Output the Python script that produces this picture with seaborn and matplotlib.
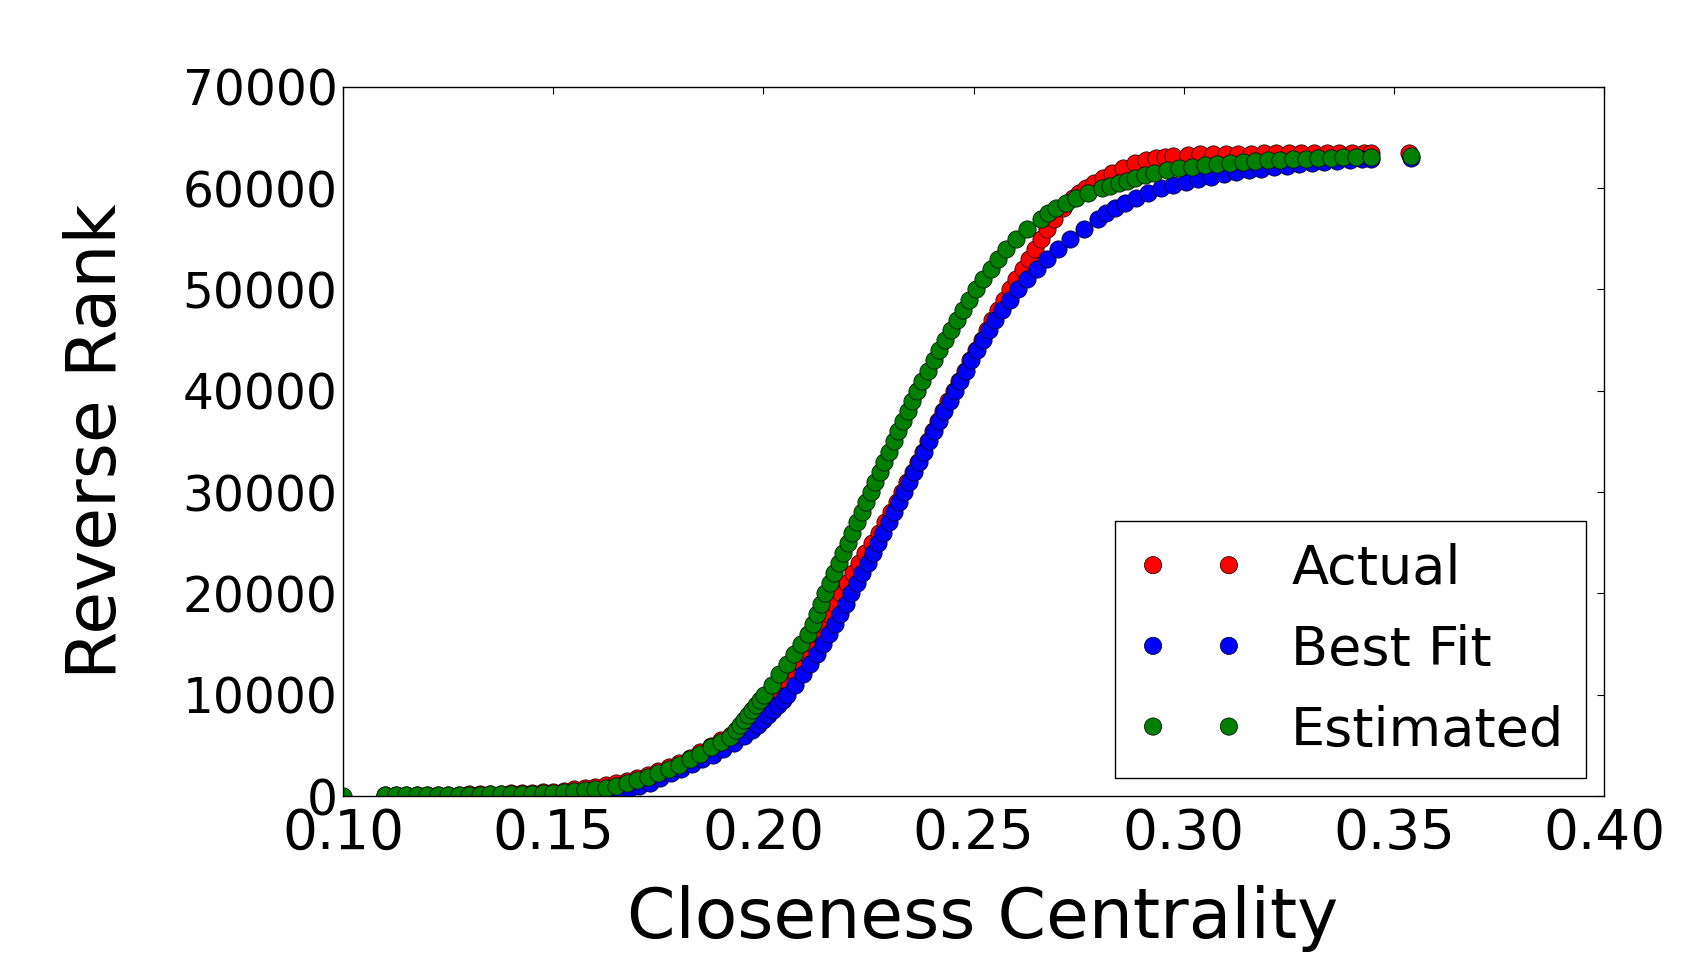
import seaborn as sns
import matplotlib.pyplot as plt
import pandas as pd

# (closeness, reverse rank)
actual_pts = [
    (0.110, 70), (0.1125, 80), (0.115, 90), (0.1175, 100), (0.120, 110), (0.1225, 120),
    (0.125, 135), (0.1275, 150), (0.130, 165), (0.1325, 185), (0.135, 205), (0.1375, 230),
    (0.140, 260), (0.1425, 300), (0.145, 340), (0.1475, 390), (0.150, 450), (0.1525, 540),
    (0.155, 650), (0.1575, 770), (0.160, 900), (0.1625, 1060), (0.165, 1250), (0.1675, 1480),
    (0.170, 1750), (0.1725, 2080), (0.175, 2450), (0.1775, 2850), (0.180, 3300), (0.1825, 3800),
    (0.185, 4350), (0.1875, 4900), (0.190, 5500), (0.1922, 6000), (0.1938, 6500), (0.1956, 7000),
    (0.1973, 7500), (0.1990, 8000), (0.2006, 8500), (0.2020, 9000), (0.2032, 9500), (0.2043, 10000),
    (0.2061, 11000), (0.2077, 12000), (0.2091, 13000), (0.2104, 14000), (0.2117, 15000),
    (0.2130, 16000), (0.2143, 17000), (0.2157, 18000), (0.2171, 19000), (0.2185, 20000),
    (0.2199, 21000), (0.2213, 22000), (0.2227, 23000), (0.2242, 24000), (0.2258, 25000),
    (0.2275, 26000), (0.2290, 27000), (0.2304, 28000), (0.2317, 29000), (0.2330, 30000),
    (0.2342, 31000), (0.2355, 32000), (0.2367, 33000), (0.2379, 34000), (0.2391, 35000),
    (0.2403, 36000), (0.2415, 37000), (0.2427, 38000), (0.2440, 39000), (0.2453, 40000),
    (0.2466, 41000), (0.2479, 42000), (0.2492, 43000), (0.2506, 44000), (0.2519, 45000),
    (0.2532, 46000), (0.2545, 47000), (0.2558, 48000), (0.2572, 49000), (0.2587, 50000),
    (0.2602, 51000), (0.2617, 52000), (0.2632, 53000), (0.2647, 54000), (0.2661, 55000),
    (0.2676, 56000), (0.2692, 57000), (0.2712, 58000), (0.2736, 59000), (0.2750, 59500),
    (0.2768, 60000), (0.2787, 60500), (0.2808, 61000), (0.2830, 61500), (0.2855, 62000),
    (0.2885, 62500), (0.2910, 62800), (0.2935, 63000), (0.2955, 63100), (0.2975, 63200),
    (0.3010, 63300), (0.304, 63340), (0.307, 63370), (0.310, 63390), (0.313, 63400),
    (0.316, 63410), (0.319, 63420), (0.322, 63430), (0.325, 63440), (0.328, 63440),
    (0.331, 63450), (0.334, 63450), (0.337, 63460), (0.340, 63460), (0.343, 63470),
    (0.3445, 63470), (0.3535, 63470),
]

bestfit_pts = [
    (0.155, 80), (0.158, 150), (0.1605, 250), (0.163, 370), (0.1655, 500), (0.168, 680),
    (0.1705, 950), (0.173, 1300), (0.1755, 1750), (0.178, 2250), (0.1805, 2700), (0.183, 3180),
    (0.1855, 3640), (0.188, 4100), (0.1905, 4650), (0.193, 5250), (0.1955, 5900),
    (0.1974, 6500), (0.1987, 7000), (0.1999, 7500), (0.2011, 8000), (0.2023, 8500),
    (0.2035, 9000), (0.2047, 9500), (0.2057, 10000), (0.2076, 11000), (0.2094, 12000),
    (0.2111, 13000), (0.2127, 14000), (0.2142, 15000), (0.2156, 16000), (0.2170, 17000),
    (0.2183, 18000), (0.2196, 19000), (0.2209, 20000), (0.2222, 21000), (0.2235, 22000),
    (0.2248, 23000), (0.2260, 24000), (0.2273, 25000), (0.2285, 26000), (0.2298, 27000),
    (0.2310, 28000), (0.2322, 29000), (0.2334, 30000), (0.2346, 31000), (0.2358, 32000),
    (0.2370, 33000), (0.2382, 34000), (0.2394, 35000), (0.2406, 36000), (0.2418, 37000),
    (0.2430, 38000), (0.2443, 39000), (0.2456, 40000), (0.2469, 41000), (0.2482, 42000),
    (0.2495, 43000), (0.2509, 44000), (0.2523, 45000), (0.2537, 46000), (0.2552, 47000),
    (0.2568, 48000), (0.2586, 49000), (0.2606, 50000), (0.2627, 51000), (0.2650, 52000),
    (0.2675, 53000), (0.2701, 54000), (0.2730, 55000), (0.2762, 56000), (0.2797, 57000),
    (0.2815, 57500), (0.2837, 58000), (0.2860, 58500), (0.2887, 59000), (0.2915, 59500),
    (0.2945, 60000), (0.2975, 60330), (0.3005, 60620), (0.3035, 60880), (0.3065, 61120),
    (0.3095, 61350), (0.3125, 61560), (0.3155, 61760), (0.3185, 61930), (0.3215, 62080),
    (0.3245, 62220), (0.3275, 62350), (0.3305, 62460), (0.3335, 62570), (0.3365, 62670),
    (0.3395, 62770), (0.3425, 62850), (0.3445, 62900), (0.354, 63000),
]

estimated_pts = [
    (0.100, 0),
    (0.110, 60), (0.1125, 70), (0.115, 80), (0.1175, 90), (0.120, 100), (0.1225, 110),
    (0.125, 120), (0.1275, 130), (0.130, 140), (0.1325, 150), (0.135, 160), (0.1375, 175),
    (0.140, 190), (0.1425, 210), (0.145, 240), (0.1475, 280), (0.150, 330), (0.1525, 390),
    (0.155, 460), (0.1575, 560), (0.160, 680), (0.1625, 820), (0.165, 1000), (0.1675, 1250),
    (0.170, 1550), (0.1725, 1900), (0.175, 2250), (0.1775, 2650), (0.180, 3100), (0.1825, 3650),
    (0.185, 4200), (0.1875, 4800), (0.190, 5300), (0.1921, 5860), (0.1934, 6500), (0.1944, 7000),
    (0.1954, 7500), (0.1963, 8000), (0.1973, 8500), (0.1983, 9000), (0.1992, 9500),
    (0.2002, 10000), (0.2020, 11000), (0.2038, 12000), (0.2056, 13000), (0.2073, 14000),
    (0.2089, 15000), (0.2105, 16000), (0.2117, 17000), (0.2127, 18000), (0.2137, 19000),
    (0.2147, 20000), (0.2158, 21000), (0.2168, 22000), (0.2179, 23000), (0.2190, 24000),
    (0.2201, 25000), (0.2212, 26000), (0.2223, 27000), (0.2234, 28000), (0.2244, 29000),
    (0.2255, 30000), (0.2266, 31000), (0.2277, 32000), (0.2288, 33000), (0.2299, 34000),
    (0.2310, 35000), (0.2321, 36000), (0.2332, 37000), (0.2343, 38000), (0.2354, 39000),
    (0.2365, 40000), (0.2378, 41000), (0.2391, 42000), (0.2405, 43000), (0.2418, 44000),
    (0.2432, 45000), (0.2446, 46000), (0.2461, 47000), (0.2476, 48000), (0.2490, 49000),
    (0.2505, 50000), (0.2523, 51000), (0.2541, 52000), (0.2559, 53000), (0.2578, 54000),
    (0.2600, 55000), (0.2628, 56000), (0.2660, 57000), (0.2678, 57500), (0.2697, 58000),
    (0.2720, 58500), (0.2745, 59000), (0.2773, 59500), (0.2805, 60000), (0.2825, 60250),
    (0.2845, 60500), (0.2865, 60750), (0.2885, 61000), (0.2907, 61250), (0.2930, 61500),
    (0.296, 61750), (0.299, 61950), (0.302, 62100), (0.305, 62240), (0.308, 62370),
    (0.311, 62480), (0.314, 62580), (0.317, 62660), (0.320, 62740), (0.323, 62810),
    (0.326, 62870), (0.329, 62920), (0.332, 62970), (0.335, 63010), (0.338, 63050),
    (0.341, 63080), (0.3445, 63100), (0.354, 63150),
]

series_names = ['Actual', 'Best Fit', 'Estimated']
series_colors = ['#ff0000', '#0000ff', '#008000']
x_ticks = [0.10, 0.15, 0.20, 0.25, 0.30, 0.35, 0.40]
y_ticks = [0, 10000, 20000, 30000, 40000, 50000, 60000, 70000]

sns.set_style('white')
plt.rcParams['font.family'] = ['DejaVu Sans']
plt.rcParams['text.color'] = 'black'
plt.rcParams['axes.labelcolor'] = 'black'
plt.rcParams['xtick.color'] = 'black'
plt.rcParams['ytick.color'] = 'black'

fig = plt.figure(figsize=(16.9, 9.72), dpi=100)
ax = fig.add_axes([0.203, 0.181, 0.7461, 0.7297])

for pts, name, col in zip([actual_pts, bestfit_pts, estimated_pts], series_names, series_colors):
    df = pd.DataFrame(pts, columns=['closeness', 'rank'])
    sns.scatterplot(data=df, x='closeness', y='rank', color=col, s=155,
                    edgecolor='black', linewidth=0.5, label=name, legend=False, ax=ax)

ax.set_xlim(0.10, 0.40)
ax.set_ylim(0, 70000)
ax.set_xticks(x_ticks)
ax.set_xticklabels(['%.2f' % t for t in x_ticks], fontsize=39.5)
ax.set_yticks(y_ticks)
ax.set_yticklabels([str(t) for t in y_ticks], fontsize=35)
ax.tick_params(direction='in', length=5, width=0.8, top=True, right=True, colors='black')
ax.tick_params(axis='y', pad=4)
ax.tick_params(axis='x', pad=8)
for sp in ax.spines.values():
    sp.set_color('black')
    sp.set_linewidth(1.0)

ax.set_xlabel('Closeness Centrality', fontsize=50, color='black')
ax.set_ylabel('Reverse Rank', fontsize=50, color='black')
ax.xaxis.set_label_coords(0.507, -0.125)
ax.yaxis.set_label_coords(-0.169, 0.5)

leg = ax.legend(loc='lower right', scatterpoints=2, scatteryoffsets=[0.5], fontsize=39,
                frameon=True, fancybox=False, framealpha=1, edgecolor='black',
                borderaxespad=0.33, borderpad=0.4, handlelength=2.0,
                handletextpad=0.85, labelspacing=0.53)
leg.get_frame().set_linewidth(1.0)
for t in leg.get_texts():
    t.set_color('black')

plt.savefig('out.png', dpi=100)
